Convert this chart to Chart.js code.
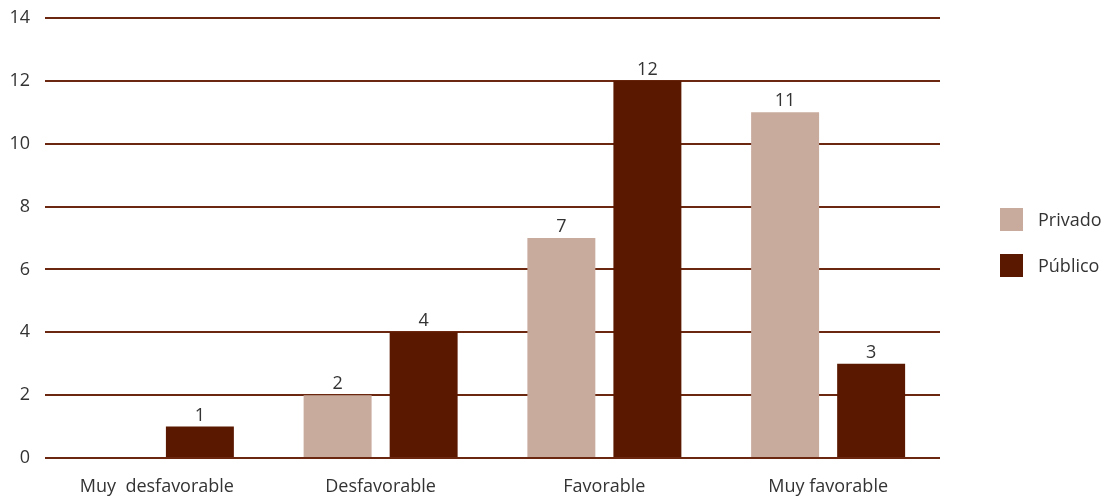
<!DOCTYPE html>
<html>
<head>
<meta charset="utf-8">
<script src="https://cdn.jsdelivr.net/npm/chart.js@4.4.0/dist/chart.umd.min.js"></script>
<style>
  html, body { margin: 0; padding: 0; background: #fff; }
  #wrap { position: relative; width: 1105px; height: 498px; }
  #legend { position: absolute; left: 1000px; top: 208px; font-family: 'Open Sans', sans-serif; font-size: 18px; color: #333; }
  .item { position: absolute; left: 0; height: 23px; white-space: nowrap; }
  .box { position: absolute; left: 0; top: 0; width: 23px; height: 23px; }
  .lbl { position: absolute; left: 38px; top: 0; line-height: 23px; }
</style>
</head>
<body>
<div id="wrap">
  <canvas id="chart" width="1105" height="498"></canvas>
  <div id="legend"></div>
</div>
<script>
// data
const categories = ['Muy  desfavorable', 'Desfavorable', 'Favorable', 'Muy favorable'];
const privado = [0, 2, 7, 11];
const publico = [1, 4, 12, 3];
const yTicks = [0, 2, 4, 6, 8, 10, 12, 14];

const COLORS = { privado: '#c9ab9d', publico: '#5a1800', grid: '#6b2710', text: '#333333' };
const FONT = "'Open Sans', sans-serif";

// value labels above bars
const valueLabels = {
  id: 'valueLabels',
  afterDatasetsDraw(chart) {
    const ctx = chart.ctx;
    ctx.save();
    ctx.font = `18px ${FONT}`;
    ctx.fillStyle = COLORS.text;
    ctx.textAlign = 'center';
    ctx.textBaseline = 'bottom';
    chart.data.datasets.forEach((ds, i) => {
      chart.getDatasetMeta(i).data.forEach((bar, j) => {
        const v = ds.data[j];
        if (!v) return;  // no label for empty bars
        ctx.fillText(String(v), bar.x, bar.y - 2);
      });
    });
    ctx.restore();
  }
};

new Chart(document.getElementById('chart'), {
  type: 'bar',
  data: {
    labels: categories,
    datasets: [
      { label: 'Privado', data: privado, backgroundColor: COLORS.privado },
      { label: 'Público', data: publico, backgroundColor: COLORS.publico }
    ]
  },
  options: {
    responsive: false,
    animation: false,
    events: [],
    layout: { padding: { top: 18, right: 165, left: 0, bottom: 0 } },
    datasets: { bar: { categoryPercentage: 0.769, barPercentage: 0.79 } },
    plugins: { legend: { display: false }, tooltip: { enabled: false } },
    scales: {
      x: {
        grid: { display: false },
        border: { display: false },
        ticks: { color: COLORS.text, font: { family: FONT, size: 18 }, padding: 10, maxRotation: 0 },
        afterFit(scale) { scale.height = 40; scale.paddingLeft = 0; scale.paddingRight = 0; }
      },
      y: {
        min: 0,
        max: 14,
        afterBuildTicks(scale) { scale.ticks = yTicks.map(v => ({ value: v })); },
        grid: { color: COLORS.grid, lineWidth: 2, drawTicks: false },
        border: { display: false },
        ticks: { color: COLORS.text, font: { family: FONT, size: 18 }, padding: 15 },
        afterFit(scale) { scale.width = 45; scale.paddingTop = 0; scale.paddingBottom = 0; }
      }
    }
  },
  plugins: [valueLabels]
});

// legend
const legend = document.getElementById('legend');
[['Privado', COLORS.privado], ['Público', COLORS.publico]].forEach(([name, color], i) => {
  const item = document.createElement('div');
  item.className = 'item';
  item.style.top = (i * 46) + 'px';
  item.innerHTML = `<div class="box" style="background:${color}"></div><div class="lbl">${name}</div>`;
  legend.appendChild(item);
});
</script>
</body>
</html>
